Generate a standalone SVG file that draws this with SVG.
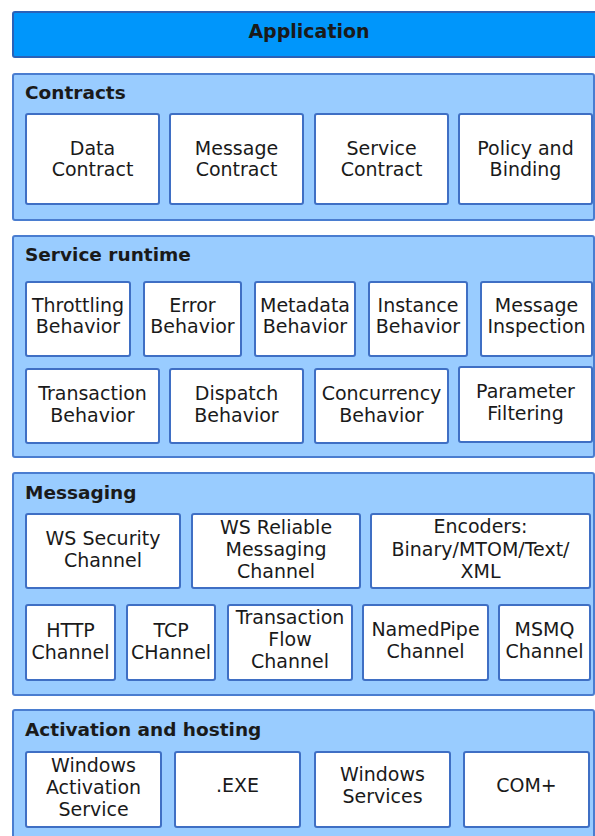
<svg xmlns="http://www.w3.org/2000/svg" width="595" height="836" viewBox="0 0 595 836">
  <style>
    .app { fill: #0096fb; stroke: #2a62b8; stroke-width: 2; }
    .panel { fill: #99ccff; stroke: #4a7dd0; stroke-width: 2; }
    .box { fill: #ffffff; stroke: #3f6fc4; stroke-width: 2; }
    text { font-family: "DejaVu Sans", Verdana, sans-serif; fill: #1a1a1a; }
    .t { font-size: 19px; text-anchor: middle; }
    .h { font-size: 18.5px; font-weight: bold; }
    .ha { font-size: 19px; font-weight: bold; text-anchor: middle; }
  </style>

  <!-- Application layer -->
  <g id="application">
    <rect class="app" x="13" y="12" width="590" height="45" rx="2"/>
    <text class="ha" x="309" y="38">Application</text>
  </g>

  <!-- Contracts layer -->
  <g id="contracts">
    <rect class="panel" x="13" y="74" width="581" height="146" rx="2"/>
    <text class="h" x="25" y="99">Contracts</text>
  </g>
  <g id="data-contract">
    <rect class="box" x="26" y="114" width="133" height="90" rx="2"/>
    <text class="t" x="92.5" y="155">Data</text>
    <text class="t" x="92.5" y="176">Contract</text>
  </g>
  <g id="message-contract">
    <rect class="box" x="170" y="114" width="133" height="90" rx="2"/>
    <text class="t" x="236.5" y="155">Message</text>
    <text class="t" x="236.5" y="176">Contract</text>
  </g>
  <g id="service-contract">
    <rect class="box" x="315" y="114" width="133" height="90" rx="2"/>
    <text class="t" x="381.5" y="155">Service</text>
    <text class="t" x="381.5" y="176">Contract</text>
  </g>
  <g id="policy-binding">
    <rect class="box" x="459" y="114" width="133" height="90" rx="2"/>
    <text class="t" x="525.5" y="155">Policy and</text>
    <text class="t" x="525.5" y="176">Binding</text>
  </g>

  <!-- Service runtime layer -->
  <g id="service-runtime">
    <rect class="panel" x="13" y="236" width="581" height="221" rx="2"/>
    <text class="h" x="25" y="261">Service runtime</text>
  </g>
  <g id="throttling">
    <rect class="box" x="26" y="282" width="104" height="74" rx="2"/>
    <text class="t" x="78" y="312">Throttling</text>
    <text class="t" x="78" y="333">Behavior</text>
  </g>
  <g id="error">
    <rect class="box" x="144" y="282" width="97" height="74" rx="2"/>
    <text class="t" x="192.5" y="312">Error</text>
    <text class="t" x="192.5" y="333">Behavior</text>
  </g>
  <g id="metadata">
    <rect class="box" x="255" y="282" width="100" height="74" rx="2"/>
    <text class="t" x="305" y="312">Metadata</text>
    <text class="t" x="305" y="333">Behavior</text>
  </g>
  <g id="instance">
    <rect class="box" x="369" y="282" width="98" height="74" rx="2"/>
    <text class="t" x="418" y="312">Instance</text>
    <text class="t" x="418" y="333">Behavior</text>
  </g>
  <g id="message-inspection">
    <rect class="box" x="481" y="282" width="111" height="74" rx="2"/>
    <text class="t" x="536.5" y="312">Message</text>
    <text class="t" x="536.5" y="333">Inspection</text>
  </g>
  <g id="transaction-behavior">
    <rect class="box" x="26" y="369" width="133" height="74" rx="2"/>
    <text class="t" x="92.5" y="400">Transaction</text>
    <text class="t" x="92.5" y="422">Behavior</text>
  </g>
  <g id="dispatch">
    <rect class="box" x="170" y="369" width="133" height="74" rx="2"/>
    <text class="t" x="236.5" y="400">Dispatch</text>
    <text class="t" x="236.5" y="422">Behavior</text>
  </g>
  <g id="concurrency">
    <rect class="box" x="315" y="369" width="133" height="74" rx="2"/>
    <text class="t" x="381.5" y="400">Concurrency</text>
    <text class="t" x="381.5" y="422">Behavior</text>
  </g>
  <g id="parameter-filtering">
    <rect class="box" x="459" y="367" width="133" height="75" rx="2"/>
    <text class="t" x="525.5" y="398">Parameter</text>
    <text class="t" x="525.5" y="420">Filtering</text>
  </g>

  <!-- Messaging layer -->
  <g id="messaging">
    <rect class="panel" x="13" y="473" width="581" height="222" rx="2"/>
    <text class="h" x="25" y="499">Messaging</text>
  </g>
  <g id="ws-security">
    <rect class="box" x="26" y="514" width="154" height="74" rx="2"/>
    <text class="t" x="103" y="545">WS Security</text>
    <text class="t" x="103" y="567">Channel</text>
  </g>
  <g id="ws-reliable">
    <rect class="box" x="192" y="514" width="168" height="74" rx="2"/>
    <text class="t" x="276" y="534">WS Reliable</text>
    <text class="t" x="276" y="556">Messaging</text>
    <text class="t" x="276" y="578">Channel</text>
  </g>
  <g id="encoders">
    <rect class="box" x="371" y="514" width="219" height="74" rx="2"/>
    <text class="t" x="480.5" y="533">Encoders:</text>
    <text class="t" x="480.5" y="556">Binary/MTOM/Text/</text>
    <text class="t" x="480.5" y="578">XML</text>
  </g>
  <g id="http">
    <rect class="box" x="26" y="605" width="89" height="75" rx="2"/>
    <text class="t" x="70.5" y="637">HTTP</text>
    <text class="t" x="70.5" y="659">Channel</text>
  </g>
  <g id="tcp">
    <rect class="box" x="127" y="605" width="88" height="75" rx="2"/>
    <text class="t" x="171" y="637">TCP</text>
    <text class="t" x="171" y="659">CHannel</text>
  </g>
  <g id="transaction-flow">
    <rect class="box" x="228" y="605" width="124" height="75" rx="2"/>
    <text class="t" x="290" y="624">Transaction</text>
    <text class="t" x="290" y="646">Flow</text>
    <text class="t" x="290" y="668">Channel</text>
  </g>
  <g id="namedpipe">
    <rect class="box" x="363" y="605" width="125" height="75" rx="2"/>
    <text class="t" x="425.5" y="636">NamedPipe</text>
    <text class="t" x="425.5" y="658">Channel</text>
  </g>
  <g id="msmq">
    <rect class="box" x="499" y="605" width="91" height="75" rx="2"/>
    <text class="t" x="544.5" y="636">MSMQ</text>
    <text class="t" x="544.5" y="658">Channel</text>
  </g>

  <!-- Activation and hosting layer -->
  <g id="activation-hosting">
    <rect class="panel" x="13" y="710" width="581" height="140" rx="2"/>
    <text class="h" x="25" y="736">Activation and hosting</text>
  </g>
  <g id="was">
    <rect class="box" x="26" y="752" width="135" height="75" rx="2"/>
    <text class="t" x="93.5" y="772">Windows</text>
    <text class="t" x="93.5" y="794">Activation</text>
    <text class="t" x="93.5" y="816">Service</text>
  </g>
  <g id="exe">
    <rect class="box" x="175" y="752" width="125" height="75" rx="2"/>
    <text class="t" x="237.5" y="792">.EXE</text>
  </g>
  <g id="windows-services">
    <rect class="box" x="315" y="752" width="135" height="75" rx="2"/>
    <text class="t" x="382.5" y="781">Windows</text>
    <text class="t" x="382.5" y="803">Services</text>
  </g>
  <g id="com-plus">
    <rect class="box" x="464" y="752" width="125" height="75" rx="2"/>
    <text class="t" x="526.5" y="792">COM+</text>
  </g>

  <!-- connectors: none, layers are stacked -->
  <g id="connectors"/>
</svg>
